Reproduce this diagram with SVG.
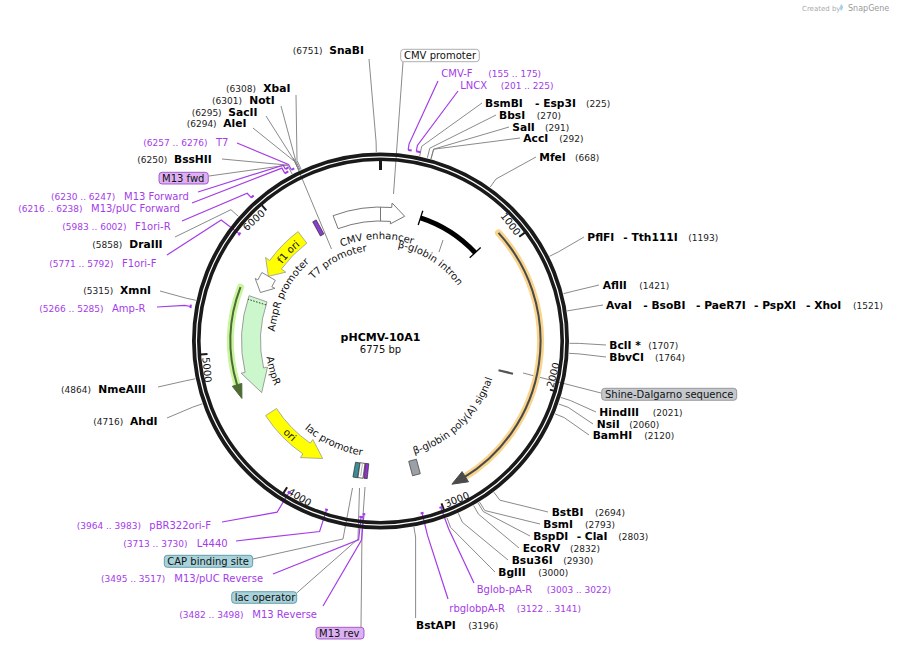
<svg xmlns="http://www.w3.org/2000/svg" width="899" height="650" viewBox="0 0 899 650">
<style>
text{font-family:"DejaVu Sans",Verdana,sans-serif}
.en{font-size:10.7px;font-weight:bold;fill:#000}
.num{font-size:9px;fill:#222}
.pr{font-size:10px;fill:#a43ce8}
.prn{font-size:9px;fill:#a43ce8}
.lbl{font-size:10px;fill:#111}
.ln{stroke:#7d7d7d;stroke-width:0.9;fill:none}
.pl{stroke:#a43ce8;stroke-width:1.2;fill:none}
.pm{stroke:#a43ce8;stroke-width:2;fill:none}
.sc{font-size:10px;fill:#111}
</style>
<defs>
<path id="pCMVe" d="M317.7,260.6 A102,102 0 0 1 437.5,256.4"/>
<path id="pT7p" d="M303.3,292.8 A91,91 0 0 1 383.7,250.1"/>
<path id="pBgi" d="M383.8,246.1 A95,95 0 0 1 465.1,297.9"/>
<path id="pF1" d="M266.3,290.2 A125,125 0 0 1 325.7,228.6"/>
<path id="pAmpP" d="M274.8,348.4 A106,106 0 0 1 322.8,252.1"/>
<path id="pAmpR" d="M265.8,333.0 A115,115 0 0 0 286.3,407.0"/>
<path id="pOri" d="M260.1,399.7 A134,134 0 0 0 326.0,463.4"/>
<path id="pLac" d="M298.5,423.0 A116,116 0 0 0 370.4,456.6"/>
<path id="pBpa" d="M390.8,458.6 A118,118 0 0 0 497.6,355.4"/>
</defs>
<rect width="899" height="650" fill="#fff"/>

<g id="watermark">
<text x="802" y="11" style="font-size:7px;fill:#aaa">Created by</text>
<path d="M841,4 q4,3 0,7 q-2,-3 0,-7z" fill="#9fd3ec"/>
<text x="848" y="11" style="font-size:8px;fill:#999">SnapGene</text>
</g>

<g id="connectors">
<!-- enzymes -->
<path class="ln" d="M369,59 L376.1,142 L376.3,152"/>
<path class="ln" d="M482,103 L421.7,146.3 L419.7,156.1"/>
<path class="ln" d="M496,115 L429.8,148.2 L427.3,157.9"/>
<path class="ln" d="M509,127 L433.6,149.2 L430.9,158.8"/>
<path class="ln" d="M520,138 L433.7,149.2 L431.1,158.9"/>
<path class="ln" d="M536,157 L496,179 L490.2,187.1"/>
<path class="ln" d="M584,237 L558.4,251.9 L549.5,256.3"/>
<path class="ln" d="M599,285 L573.2,291.2 L563.5,293.7"/>
<path class="ln" d="M603,305 L576.9,309.3 L567.1,310.9"/>
<path class="ln" d="M606,345 L579.5,343.4 L569.5,343.3"/>
<path class="ln" d="M606,357 L579.1,353.9 L569.1,353.3"/>
<path class="ln" d="M596,412 L570.4,400.5 L560.9,397.5"/>
<path class="ln" d="M593,424 L568.1,407.3 L558.7,404"/>
<path class="ln" d="M589,435 L564.2,417.6 L554.9,413.8"/>
<path class="ln" d="M548,512 L499.9,500.2 L493.9,492.2"/>
<path class="ln" d="M540,524 L484.8,510.5 L479.5,502"/>
<path class="ln" d="M530,536 L483.2,511.5 L478,502.9"/>
<path class="ln" d="M519,548 L478.5,514.2 L473.6,505.5"/>
<path class="ln" d="M508,560 L462.4,522.3 L458.3,513.2"/>
<path class="ln" d="M495,572 L450.5,527.3 L447,517.9"/>
<path class="ln" d="M415.6,618 L415.6,537 L413.9,527"/>
<path class="ln" d="M160,291 L186.2,298.2 L195.9,300.3"/>
<path class="ln" d="M158,387 L185.5,380.8 L195.3,378.8"/>
<path class="ln" d="M167,418 L192.8,407.1 L202.3,403.8"/>
<path class="ln" d="M175,237 L230.9,209.7 L238.4,216.3"/>
<path class="ln" d="M296,95 L297,160.4 L301.2,169.4"/>
<path class="ln" d="M281,106 L295.8,160.9 L300.1,170"/>
<path class="ln" d="M266,116 L294.8,161.4 L299.1,170.4"/>
<path class="ln" d="M253,128 L294.7,161.5 L299,170.5"/>
<path class="ln" d="M222,159 L287.4,165.1 L292.1,174"/>
<path class="ln" d="M209,176 L287.4,165.1"/>
<!-- features -->
<path class="ln" d="M403,62 L393.5,194"/>
<path class="ln" d="M293.5,158 L331.5,249"/>
<path class="ln" d="M443,240 L439,252"/>
<path class="ln" d="M601,393 L523,373"/>
<path class="ln" d="M252.7,559 L343,539 L352.5,488"/>
<path class="ln" d="M296.7,593 L358,539 L359.5,488"/>
<path class="ln" d="M361,627 L362,530 L365,487"/>
<!-- primers -->
<path class="pl" d="M438,81 L409,144.1 L408.2,150"/>
<path class="pl" d="M458,91 L417.4,145.4 L416.3,151.3"/>
<path class="pl" d="M237,143 L288.5,164.5 L291.3,169.8"/>
<path class="pl" d="M198,192 L283.2,165.1 L285.4,169.1"/>
<path class="pl" d="M192,203 L281.9,168.1 L284.9,173.4"/>
<path class="pl" d="M182,221 L247.2,193.3 L251.2,197.7"/>
<path class="pl" d="M167,255 L221.2,220.1 L239.5,234"/>
<path class="pl" d="M157,307 L184.7,305.4 L190.6,306.5"/>
<path class="pl" d="M222,522 L277.1,512.2 L289,492.5"/>
<path class="pl" d="M236,541 L319.6,531.5 L326.6,509.6"/>
<path class="pl" d="M273,574 L358.6,539.8 L361.1,516.9"/>
<path class="pl" d="M323,606 L361.5,540.1 L364,514.2"/>
<path class="pl" d="M474,583 L448.7,529 L440.8,507.4"/>
<path class="pl" d="M448,599 L427.5,535.4 L422.1,513"/>
</g>

<g id="backbone">
<circle cx="380.5" cy="341" r="186.6" fill="none" stroke="#1a1a1a" stroke-width="3.8"/>
<circle cx="380.5" cy="341" r="181.7" fill="none" stroke="#1a1a1a" stroke-width="3.6"/>
<line x1="380.5" y1="160" x2="380.5" y2="170" stroke="#1a1a1a" stroke-width="3"/>
<g stroke="#1a1a1a" stroke-width="2">
<line x1="519.2" y1="236.8" x2="524.8" y2="232.6"/>
<line x1="549.9" y1="389.6" x2="556.6" y2="391.6"/>
<line x1="441.5" y1="503.4" x2="444" y2="510"/>
<line x1="287.1" y1="487.2" x2="283.4" y2="493.1"/>
<line x1="207.5" y1="354.1" x2="200.5" y2="354.6"/>
<line x1="266.3" y1="210.4" x2="261.7" y2="205.1"/>
</g>
<text class="sc" text-anchor="end" transform="translate(515.6,236.2) rotate(52.2)">1000</text>
<text class="sc" transform="translate(553.2,388.2) rotate(-74.7)">2000</text>
<text class="sc" transform="translate(446.4,507.4) rotate(-21.6)">3000</text>
<text class="sc" transform="translate(287,493.6) rotate(31.5)">4000</text>
<text class="sc" transform="translate(202.3,357.5) rotate(84.7)">5000</text>
<text class="sc" text-anchor="end" transform="translate(265.6,214.3) rotate(-42.2)">6000</text>
</g>

<g id="primer-marks">
<path class="pm" d="M408.2,150 A193,193 0 0 1 411.7,150.5"/>
<path class="pm" d="M416.3,151.3 A193,193 0 0 1 420.5,152.2"/>
<path class="pm" d="M291.3,169.8 A193,193 0 0 1 294.3,168.3"/>
<path class="pm" d="M285.4,169.1 A196.5,196.5 0 0 1 288.1,167.6"/>
<path class="pm" d="M284.9,173.4 A193,193 0 0 1 288.3,171.4"/>
<path class="pm" d="M251.2,197.7 A193,193 0 0 1 253.7,195.5"/>
<path class="pm" d="M238.5,235.3 A177,177 0 0 1 240.5,232.7"/>
<path class="pm" d="M190.5,308.1 A193,193 0 0 1 190.9,304.7"/>
<path class="pm" d="M290.3,493.3 A177,177 0 0 1 287.7,491.7"/>
<path class="pm" d="M327.9,510 A177,177 0 0 1 325.2,509.2"/>
<path class="pm" d="M362.9,517.1 A177,177 0 0 1 359.3,516.7"/>
<path class="pm" d="M365.3,514.3 A174,174 0 0 1 362.7,514.1"/>
<path class="pm" d="M442.3,506.9 A177,177 0 0 1 439.4,507.9"/>
<path class="pm" d="M423.6,512.7 A177,177 0 0 1 420.6,513.4"/>
</g>

<g id="cmv-enhancer">
<path d="M333.1,215.7 A134,134 0 0 1 391.7,207.5 L392.1,203 L404.7,216.3 L390.3,223.9 L390.5,221.4 A120,120 0 0 0 338.1,228.7 Z" fill="#fff" stroke="#777" stroke-width="1"/>
<line x1="380.5" y1="207" x2="380.5" y2="221" stroke="#777" stroke-width="1"/>
<text class="lbl"><textPath href="#pCMVe" startOffset="50%" text-anchor="middle">CMV enhancer</textPath></text>
</g>

<g id="beta-globin-intron">
<path d="M420.5,217.8 A129.5,129.5 0 0 1 475.2,252.7" fill="none" stroke="#000" stroke-width="5"/>
<line x1="418.2" y1="225" x2="422.8" y2="210.7" stroke="#000" stroke-width="1.3"/>
<line x1="469.7" y1="257.8" x2="480.7" y2="247.6" stroke="#000" stroke-width="1.3"/>
<text class="lbl"><textPath href="#pBgi" startOffset="50%" text-anchor="middle">β-globin intron</textPath></text>
</g>

<g id="t7-promoter">
<rect x="-2" y="-8" width="4" height="16" fill="#8e3bd1" stroke="#333" stroke-width="0.7" transform="translate(318.3,227.9) rotate(-28.7)"/>
<text class="lbl"><textPath href="#pT7p" startOffset="50%" text-anchor="middle">T7 promoter</textPath></text>
</g>

<g id="f1-ori">
<path d="M298.1,231.6 A137,137 0 0 0 269.7,260.5 L265.6,257.5 L268.4,276.3 L285.8,272.2 L281.4,269 A122.5,122.5 0 0 1 306.8,243.2 Z" fill="#ffff00" stroke="#999" stroke-width="0.8"/>
<text class="lbl"><textPath href="#pF1" startOffset="50%" text-anchor="middle">f1 ori</textPath></text>
</g>

<g id="ampr-promoter">
<path d="M261.9,272.5 L257.9,279.9 L255.2,278.5 L260.4,292.5 L274.9,288.3 L271.8,286.8 L275.3,280.3 Z" fill="#fff" stroke="#777" stroke-width="0.9"/>
<text class="lbl"><textPath href="#pAmpP" startOffset="50%" text-anchor="middle">AmpR promoter</textPath></text>
</g>

<g id="ampr">
<path d="M240.5,287.2 A150,150 0 0 0 237.1,384.9" fill="none" stroke="#c9f59f" stroke-width="7" stroke-linecap="round"/>
<path d="M240.5,287.2 A150,150 0 0 0 237.1,384.9" fill="none" stroke="#4d6b33" stroke-width="2"/>
<path d="M241.9,398.4 L241.8,383.4 L232.3,386.3 Z" fill="#4d6b33" stroke="#4d6b33" stroke-width="1"/>
<path d="M249.1,295.7 A139,139 0 0 0 245.1,372.3 L241.2,373.2 L261.7,392.6 L267.5,367.1 L263.6,368 A120,120 0 0 1 267,301.9 Z" fill="#ccf7cc" stroke="#888" stroke-width="0.8"/>
<line x1="266.1" y1="304.9" x2="247.9" y2="299.2" stroke="#333" stroke-width="1" stroke-dasharray="1.5,1.5"/>
<text class="lbl"><textPath href="#pAmpR" startOffset="50%" text-anchor="middle">AmpR</textPath></text>
</g>

<g id="ori">
<path d="M265.6,415.6 A137,137 0 0 0 302.9,453.9 L300.4,457.6 L322.7,458.5 L312.8,439.5 L310.3,443.2 A124,124 0 0 1 276.5,408.5 Z" fill="#ffff00" stroke="#999" stroke-width="0.8"/>
<text class="lbl"><textPath href="#pOri" startOffset="50%" text-anchor="middle">ori</textPath></text>
</g>

<g id="lac-promoter">
<rect x="-2.3" y="-7.5" width="4.6" height="15" fill="#3d8c99" stroke="#333" stroke-width="0.7" transform="translate(356.5,470) rotate(10)"/>
<rect x="-2.5" y="-7.5" width="5" height="15" fill="#fff" stroke="#333" stroke-width="0.7" transform="translate(361.5,470.5) rotate(8)"/>
<line x1="0" y1="-6" x2="0" y2="6" stroke="#555" stroke-width="0.8" stroke-dasharray="1,1" transform="translate(361.5,470.5) rotate(8)"/>
<rect x="-1.7" y="-7.5" width="3.4" height="15" fill="#9030d0" stroke="#333" stroke-width="0.7" transform="translate(366.3,471) rotate(6)"/>
<text class="lbl"><textPath href="#pLac" startOffset="50%" text-anchor="middle">lac promoter</textPath></text>
</g>

<g id="orf-orange">
<path d="M498.5,232.9 A160,160 0 0 1 462.9,478.2" fill="none" stroke="#f9d48c" stroke-width="7" stroke-linecap="round"/>
<path d="M498.5,232.9 A160,160 0 0 1 462.9,478.2" fill="none" stroke="#4a4a4a" stroke-width="2"/>
<path d="M451.9,484.2 L462.1,471.6 L468.5,481.8 Z" fill="#4a4a4a" stroke="#4a4a4a" stroke-width="1"/>
</g>

<g id="shine-dalgarno">
<line x1="498.5" y1="370.3" x2="513" y2="373.7" stroke="#555" stroke-width="2.2"/>
</g>

<g id="beta-globin-polyA">
<rect x="-4" y="-7.5" width="8" height="15" fill="#9aa0a6" stroke="#555" stroke-width="0.8" transform="translate(414.5,467.5) rotate(-15)"/>
<text class="lbl"><textPath href="#pBpa" startOffset="50%" text-anchor="middle">β-globin poly(A) signal</textPath></text>
</g>

<g id="title">
<text x="380.5" y="340.7" text-anchor="middle" style="font-size:11px;font-weight:bold;fill:#000">pHCMV-10A1</text>
<text x="380.5" y="352.7" text-anchor="middle" style="font-size:10px;fill:#111">6775 bp</text>
</g>

<g id="labels-top">
<text class="num" x="292.7" y="54">(6751)</text><text class="en" x="329.3" y="54">SnaBI</text>
<g id="cmv-promoter-label"><rect x="400.7" y="49.3" width="78.6" height="12.4" rx="3" fill="#fff" stroke="#999" stroke-width="0.8"/><text class="lbl" x="404" y="59">CMV promoter</text></g>
<text class="pr" x="441.3" y="76.7">CMV-F</text><text class="prn" x="488.3" y="76.7">(155 .. 175)</text>
<text class="pr" x="460.3" y="88.7">LNCX</text><text class="prn" x="500.7" y="88.7">(201 .. 225)</text>
<text class="en" x="485" y="106.7">BsmBI</text><text class="en" x="535" y="106.7">- Esp3I</text><text class="num" x="586" y="106.7">(225)</text>
<text class="en" x="499" y="118.7">BbsI</text><text class="num" x="536.7" y="118.7">(270)</text>
<text class="en" x="512.3" y="130.7">SalI</text><text class="num" x="545" y="130.7">(291)</text>
<text class="en" x="523.3" y="142.3">AccI</text><text class="num" x="559.3" y="142.3">(292)</text>
<text class="en" x="539.3" y="160.7">MfeI</text><text class="num" x="575" y="160.7">(668)</text>
</g>

<g id="labels-right">
<text class="en" x="587.3" y="241">PflFI</text><text class="en" x="623.3" y="241">- Tth111I</text><text class="num" x="688.3" y="241">(1193)</text>
<text class="en" x="602.7" y="289">AflII</text><text class="num" x="639.3" y="289">(1421)</text>
<text class="en" x="606" y="308.7">AvaI</text><text class="en" x="643.3" y="308.7">- BsoBI</text><text class="en" x="696" y="308.7">- PaeR7I</text><text class="en" x="754" y="308.7">- PspXI</text><text class="en" x="806" y="308.7">- XhoI</text><text class="num" x="853" y="308.7">(1521)</text>
<text class="en" x="609.3" y="348.7">BclI *</text><text class="num" x="648.3" y="348.7">(1707)</text>
<text class="en" x="609.3" y="360.7">BbvCI</text><text class="num" x="655" y="360.7">(1764)</text>
<g id="shine-label"><rect x="601.7" y="388.3" width="135" height="12" rx="3" fill="#c4c8cc" stroke="#888" stroke-width="0.8"/><text class="lbl" x="605" y="397.7">Shine-Dalgarno sequence</text></g>
<text class="en" x="599.3" y="415.7">HindIII</text><text class="num" x="652.7" y="415.7">(2021)</text>
<text class="en" x="596.7" y="427.7">NsiI</text><text class="num" x="629.3" y="427.7">(2060)</text>
<text class="en" x="592.7" y="439">BamHI</text><text class="num" x="644.3" y="439">(2120)</text>
</g>

<g id="labels-bottom-right">
<text class="en" x="551.7" y="515.7">BstBI</text><text class="num" x="595" y="515.7">(2694)</text>
<text class="en" x="543.3" y="527.7">BsmI</text><text class="num" x="585" y="527.7">(2793)</text>
<text class="en" x="533.3" y="539.7">BspDI</text><text class="en" x="576.7" y="539.7">- ClaI</text><text class="num" x="618.3" y="539.7">(2803)</text>
<text class="en" x="522.7" y="551.7">EcoRV</text><text class="num" x="570" y="551.7">(2832)</text>
<text class="en" x="511.7" y="563.7">Bsu36I</text><text class="num" x="563.3" y="563.7">(2930)</text>
<text class="en" x="498.3" y="575.7">BglII</text><text class="num" x="538.3" y="575.7">(3000)</text>
<text class="pr" x="476.7" y="593.3">Bglob-pA-R</text><text class="prn" x="546.7" y="593.3">(3003 .. 3022)</text>
<text class="pr" x="449.3" y="611.7">rbglobpA-R</text><text class="prn" x="516.7" y="611.7">(3122 .. 3141)</text>
<text class="en" x="416" y="629.3">BstAPI</text><text class="num" x="468.3" y="629.3">(3196)</text>
</g>

<g id="labels-bottom-left">
<text class="prn" x="76.7" y="528.7">(3964 .. 3983)</text><text class="pr" x="149.3" y="528.7">pBR322ori-F</text>
<text class="prn" x="123.3" y="546.7">(3713 .. 3730)</text><text class="pr" x="196.7" y="546.7">L4440</text>
<g id="cap-label"><rect x="164.3" y="555.3" width="88.4" height="12" rx="3" fill="#a9d3db" stroke="#4a8a9a" stroke-width="0.8"/><text class="lbl" x="167.3" y="564.7">CAP binding site</text></g>
<text class="prn" x="101" y="582">(3495 .. 3517)</text><text class="pr" x="174.3" y="582">M13/pUC Reverse</text>
<g id="lacop-label"><rect x="231.7" y="591.7" width="65" height="11.6" rx="3" fill="#a9d3db" stroke="#4a8a9a" stroke-width="0.8"/><text class="lbl" x="234.7" y="601">lac operator</text></g>
<text class="prn" x="179.3" y="618.3">(3482 .. 3498)</text><text class="pr" x="252.3" y="618.3">M13 Reverse</text>
<g id="m13rev-label"><rect x="316" y="627.3" width="48" height="11.7" rx="3" fill="#dcb0f2" stroke="#9040c0" stroke-width="0.8"/><text class="lbl" x="319" y="636.7">M13 rev</text></g>
</g>

<g id="labels-left">
<text class="num" x="83.3" y="294.3">(5315)</text><text class="en" x="120" y="294.3">XmnI</text>
<text class="prn" x="39.3" y="312.3">(5266 .. 5285)</text><text class="pr" x="112" y="312.3">Amp-R</text>
<text class="num" x="61" y="392.7">(4864)</text><text class="en" x="98.3" y="392.7">NmeAIII</text>
<text class="num" x="93.3" y="425">(4716)</text><text class="en" x="130" y="425">AhdI</text>
</g>

<g id="labels-top-left">
<text class="num" x="226" y="91.7">(6308)</text><text class="en" x="263.3" y="91.7">XbaI</text>
<text class="num" x="212" y="104">(6301)</text><text class="en" x="249.3" y="104">NotI</text>
<text class="num" x="191.7" y="116">(6295)</text><text class="en" x="228.3" y="116">SacII</text>
<text class="num" x="186.7" y="127.3">(6294)</text><text class="en" x="223.3" y="127.3">AleI</text>
<text class="prn" x="143.3" y="146">(6257 .. 6276)</text><text class="pr" x="216" y="146">T7</text>
<text class="num" x="137.3" y="163.3">(6250)</text><text class="en" x="174" y="163.3">BssHII</text>
<g id="m13fwd-label"><rect x="159" y="172.3" width="49.3" height="11.7" rx="3" fill="#dcb0f2" stroke="#9040c0" stroke-width="0.8"/><text class="lbl" x="162" y="181.7">M13 fwd</text></g>
<text class="prn" x="51" y="200">(6230 .. 6247)</text><text class="pr" x="124" y="200">M13 Forward</text>
<text class="prn" x="18.3" y="212">(6216 .. 6238)</text><text class="pr" x="91" y="212">M13/pUC Forward</text>
<text class="prn" x="62.3" y="230">(5983 .. 6002)</text><text class="pr" x="135" y="230">F1ori-R</text>
<text class="num" x="92.3" y="248.3">(5858)</text><text class="en" x="129.3" y="248.3">DraIII</text>
<text class="prn" x="49.3" y="266.7">(5771 .. 5792)</text><text class="pr" x="122" y="266.7">F1ori-F</text>
</g>
</svg>
